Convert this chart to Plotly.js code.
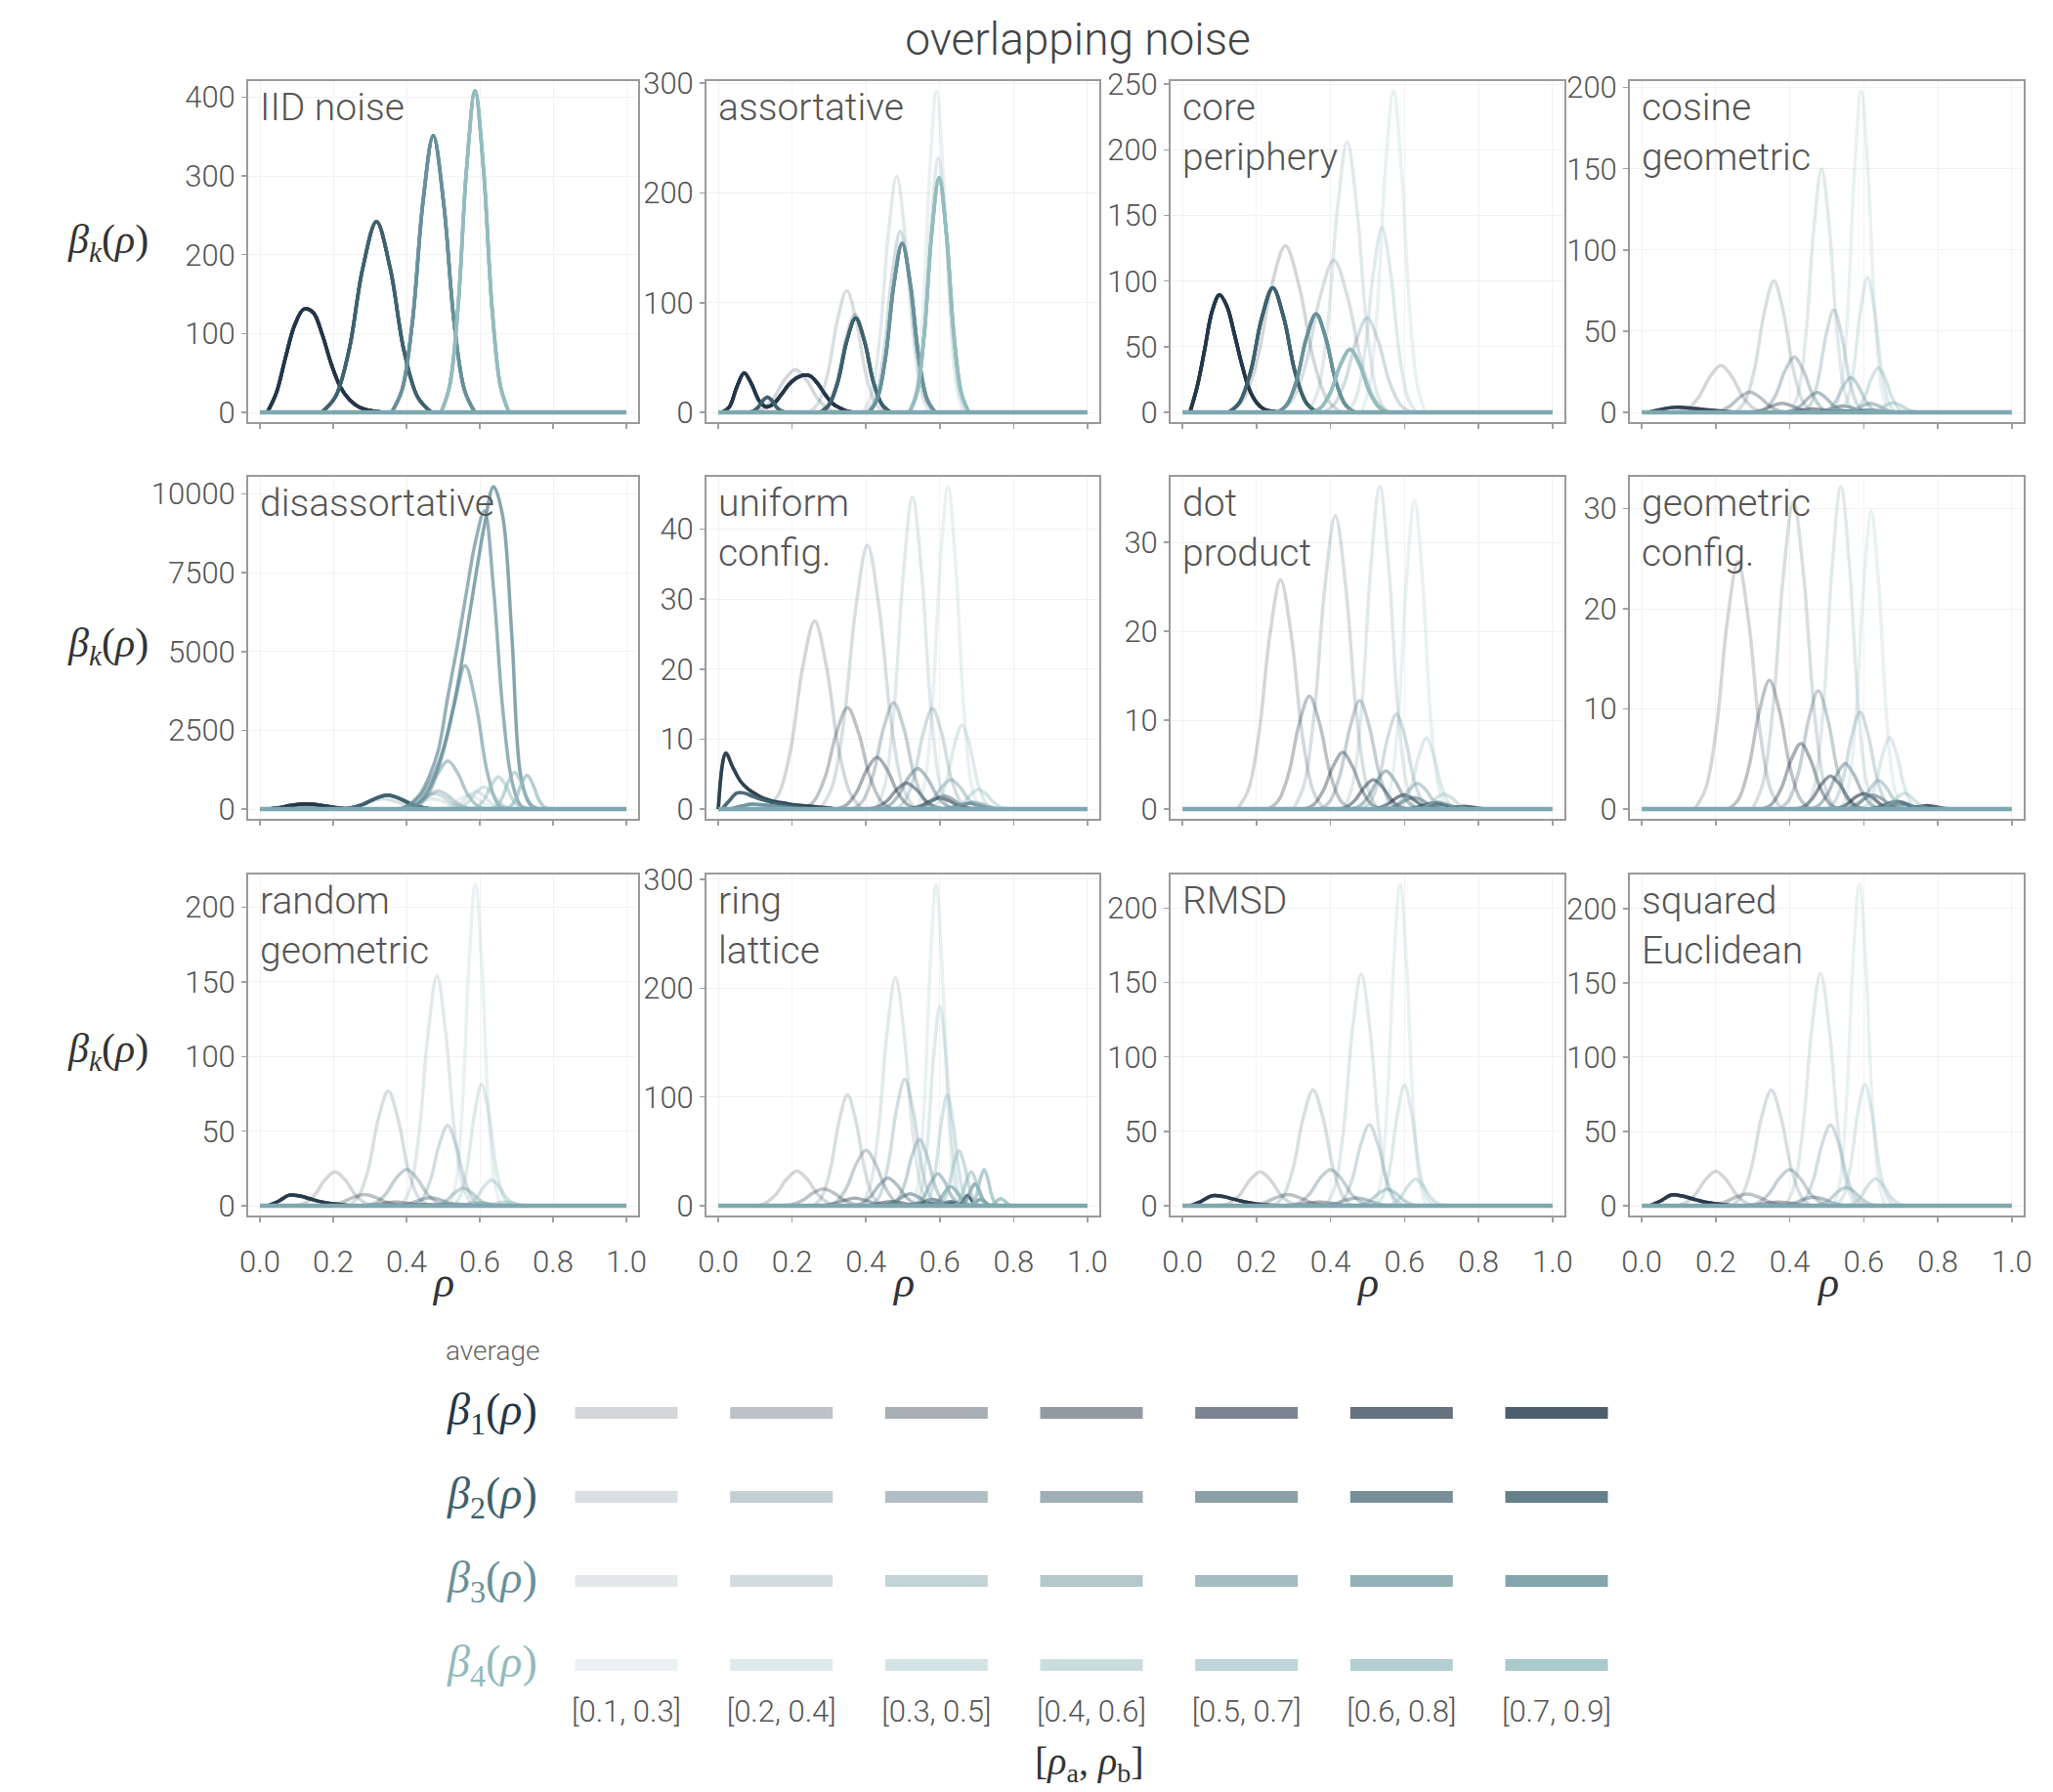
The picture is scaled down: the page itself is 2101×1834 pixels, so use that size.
<!DOCTYPE html>
<html><head><meta charset="utf-8">
<script src="https://cdn.plot.ly/plotly-3.0.1.min.js"></script>
<style>html,body{margin:0;padding:0;background:#fff}#chart{width:2101px;height:1834px}</style>
</head><body><div id="chart"></div>
<script>
// ---------------- data ----------------
const intervals = ['[0.1, 0.3]','[0.2, 0.4]','[0.3, 0.5]','[0.4, 0.6]','[0.5, 0.7]','[0.6, 0.8]','[0.7, 0.9]'];
const alphas = [0.2,0.3,0.4,0.5,0.6,0.7,0.8];
const betaRGB = [[35,54,71],[61,96,109],[104,144,154],[147,187,190]];
const panelLabels = ['IID noise','assortative','core<br>periphery','cosine<br>geometric',
  'disassortative','uniform<br>config.','dot<br>product','geometric<br>config.',
  'random<br>geometric','ring<br>lattice','RMSD','squared<br>Euclidean'];
const yTickSteps = [100,100,50,50,2500,10,10,10,50,100,50,50];
const xTickVals = [0,0.2,0.4,0.6,0.8,1.0];
const rhoDomain = [0,1];
const ALL = [0,1,2,3,4,5,6];
// each curve: [k, interval index (or list), rho start, rho step, beta values]
const iidNoise = [
 [1,ALL,0.02,0.025,[0,25,70,111,131,127,99,61,32,16,7,3,1,0]],
 [2,ALL,0.168,0.0375,[0,19.4,78.7,182.7,242,182.7,78.7,19.4,0]],
 [3,ALL,0.359,0.0285,[0,28.1,114,265,351,265,114,28.1,0]],
 [4,ALL,0.494,0.02325,[0,32.6,132.6,308,408,308,132.6,32.6,0]]
];
const assortative = [
 [1,[1,2,3,4,5,6],0.01,0.02,[0,5,23,36,26,11,5,8,16,25,31,34,33,26,16,8,4,1,0]],
 [1,0,0.089,0.03,[0,3.1,12.7,29.4,39,29.4,12.7,3.1,0]],
 [2,[3,4,5,6],0.082,0.01275,[0,1.1,4.6,10.6,14,10.6,4.6,1.1,0]],
 [2,0,0.246,0.0255,[0,8.9,36.1,83.8,111,83.8,36.1,8.9,0]],
 [2,1,0.274,0.024,[0,7.1,28.9,67.2,89,67.2,28.9,7.1,0]],
 [2,[2,3,4,5,6],0.276,0.024,[0,6.9,28,64.9,86,64.9,28,6.9,0]],
 [3,0,0.393,0.0225,[0,17.2,69.9,162.3,215,162.3,69.9,17.2,0]],
 [3,1,0.403,0.0225,[0,13.2,53.6,124.6,165,124.6,53.6,13.2,0]],
 [3,[2,3,4,5,6],0.408,0.0225,[0,12.3,50,116.3,154,116.3,50,12.3,0]],
 [4,0,0.519,0.018,[0,23.4,95.2,221.2,293,221.2,95.2,23.4,0]],
 [4,1,0.521,0.01875,[0,18.6,75.4,175.2,232,175.2,75.4,18.6,0]],
 [4,[2,3,4,5,6],0.517,0.02025,[0,17.1,69.6,161.6,214,161.6,69.6,17.1,0]]
];
const corePeriphery = [
 [1,[1,2,3,4,5,6],0.02,0.02,[0,20,48,77,89.6,81,60,37,18,7.6,2.5,1,0]],
 [1,0,0.128,0.0375,[0,10.2,41.3,95.9,127,95.9,41.3,10.2,0]],
 [2,[1,2,3,4,5,6],0.124,0.03,[0,7.6,30.9,71.7,95,71.7,30.9,7.6,0]],
 [2,0,0.259,0.0375,[0,9.3,37.7,87.6,116,87.6,37.7,9.3,0]],
 [3,[2,3,4,5,6],0.256,0.02625,[0,6,24.4,56.6,75,56.6,24.4,6,0]],
 [3,1,0.379,0.03,[0,5.8,23.4,54.4,72,54.4,23.4,5.8,0]],
 [3,0,0.34,0.02625,[0,16.5,67,155.5,206,155.5,67,16.5,0]],
 [4,[2,3,4,5,6],0.348,0.02625,[0,3.8,15.6,36.2,48,36.2,15.6,3.8,0]],
 [4,1,0.446,0.02325,[0,11.3,45.8,106.5,141,106.5,45.8,11.3,0]],
 [4,0,0.483,0.02175,[0,19.6,79.6,185,245,185,79.6,19.6,0]]
];
const cosineGeometric = [
 [1,[5,6],0.02,0.03,[0.3,1.8,3,3.1,2.5,1.8,1.2,0.6,0]],
 [1,0,0.094,0.03,[0,2.3,9.4,21.9,29,21.9,9.4,2.3,0]],
 [1,1,0.187,0.02625,[0,1,4.1,9.5,12.6,9.5,4.1,1,0]],
 [1,2,0.28,0.02475,[0,0.45,1.8,4.2,5.6,4.2,1.8,0.45,0]],
 [1,3,0.37,0.0225,[0,0.18,0.7,1.7,2.2,1.7,0.7,0.18,0]],
 [1,4,0.45,0.0225,[0,0.08,0.33,0.76,1,0.76,0.33,0.08,0]],
 [2,0,0.252,0.02625,[0,6.5,26.3,61.2,81,61.2,26.3,6.5,0]],
 [2,1,0.313,0.02475,[0,2.7,11,25.7,34,25.7,11,2.7,0]],
 [2,2,0.384,0.0225,[0,1,4,9.2,12.2,9.2,4,1,0]],
 [2,3,0.454,0.0225,[0,0.3,1.3,3,4,3,1.3,0.3,0]],
 [2,4,0.52,0.0225,[0,0.12,0.5,1.1,1.5,1.1,0.5,0.12,0]],
 [3,0,0.402,0.021,[0,12,48.8,113.3,150,113.3,48.8,12,0]],
 [3,1,0.435,0.021,[0,5,20.5,47.6,63,47.6,20.5,5,0]],
 [3,2,0.484,0.02025,[0,1.7,7,16.2,21.5,16.2,7,1.7,0]],
 [3,3,0.537,0.02025,[0,0.45,1.8,4.2,5.6,4.2,1.8,0.45,0]],
 [4,0,0.521,0.018,[0,15.8,64.4,149.5,198,149.5,64.4,15.8,0]],
 [4,1,0.535,0.01875,[0,6.6,27,62.7,83,62.7,27,6.6,0]],
 [4,2,0.564,0.01875,[0,2.2,8.9,20.8,27.5,20.8,8.9,2.2,0]],
 [4,3,0.605,0.01875,[0,0.5,2,4.5,6,4.5,2,0.5,0]]
];
const disassortative = [
 [1,[3,4,5,6],0.02,0.03,[0,40,110,160,160,115,60,20,0]],
 [1,[0,1],0.02,0.03,[0,30,80,115,110,80,40,12,0]],
 [2,0,0.2,0.03375,[0,26.4,107,249,330,249,107,26.4,0]],
 [2,[3,4,5,6],0.213,0.03375,[0,35.5,144,335,444,335,144,35.5,0]],
 [3,0,0.35,0.03,[0,26.4,107,249,330,249,107,26.4,0]],
 [3,1,0.373,0.02625,[0,38.4,156,362,480,362,156,38.4,0]],
 [3,2,0.381,0.02625,[0,46.4,188.5,438,580,438,188.5,46.4,0]],
 [3,3,0.408,0.02625,[0,122,497,1154,1529,1154,497,122,0]],
 [3,4,0.38,0.03,[0,150,450,1000,1900,3300,4556,3300,1200,150,0]],
 [3,5,0.3875,0.025,[0,180,480,1050,1900,3550,5100,6800,8450,9463,7000,3200,900,100,0]],
 [3,6,0.4125,0.025,[0,250,650,1350,2400,3800,5500,7300,9000,10238,9300,5500,1000,150,0]],
 [4,0,0.48,0.0225,[0,36,146,340,450,340,146,36,0]],
 [4,1,0.506,0.021,[0,44.8,182,423,560,423,182,44.8,0]],
 [4,2,0.527,0.021,[0,56,228,530,702,530,228,56,0]],
 [4,3,0.576,0.01875,[0,82,332,772,1023,772,332,82,0]],
 [4,4,0.629,0.0165,[0,93,379,881,1167,881,379,93,0]],
 [4,5,0.669,0.015,[0,86,349,811,1074,811,349,86,0]]
];
const uniformConfig = [
 [1,[5,6],0,0.02,[0,8,5.9,4,2.9,2.2,1.6,1.25,1,0.85,0.65,0.55,0.45,0.35,0.25,0.15,0]],
 [2,[5,6],0.01,0.02,[0,1.2,2.3,2.3,1.9,1.5,1.2,0.9,0.7,0.5,0.35,0.2,0]],
 [3,[5,6],0.03,0.03,[0,0.4,0.7,0.6,0.4,0.25,0.1,0]],
 [1,0,0.132,0.03225,[0,2.2,8.7,20.3,26.9,20.3,8.7,2.2,0]],
 [1,1,0.23,0.03,[0,1.2,4.7,10.9,14.5,10.9,4.7,1.2,0]],
 [1,2,0.319,0.02775,[0,0.6,2.4,5.6,7.4,5.6,2.4,0.6,0]],
 [1,3,0.405,0.02625,[0,0.3,1.2,2.8,3.7,2.8,1.2,0.3,0]],
 [1,4,0.501,0.02475,[0,0.13,0.52,1.2,1.6,1.2,0.52,0.13,0]],
 [2,0,0.275,0.03225,[0,3,12.3,28.5,37.7,28.5,12.3,3,0]],
 [2,1,0.364,0.02775,[0,1.2,4.9,11.5,15.2,11.5,4.9,1.2,0]],
 [2,2,0.435,0.02625,[0,0.46,1.9,4.4,5.8,4.4,1.9,0.46,0]],
 [2,3,0.514,0.024,[0,0.15,0.6,1.4,1.9,1.4,0.6,0.15,0]],
 [2,4,0.59,0.0225,[0,0.06,0.26,0.6,0.8,0.6,0.26,0.06,0]],
 [3,0,0.427,0.02475,[0,3.6,14.5,33.7,44.6,33.7,14.5,3.6,0]],
 [3,1,0.481,0.02475,[0,1.2,4.7,10.9,14.4,10.9,4.7,1.2,0]],
 [3,2,0.534,0.024,[0,0.34,1.4,3.2,4.2,3.2,1.4,0.34,0]],
 [3,3,0.6,0.0225,[0,0.08,0.33,0.76,1,0.76,0.33,0.08,0]],
 [4,0,0.538,0.021,[0,3.7,15,34.8,46.1,34.8,15,3.7,0]],
 [4,1,0.576,0.021,[0,1,3.9,9.1,12,9.1,3.9,1,0]],
 [4,2,0.621,0.021,[0,0.22,0.9,2.1,2.8,2.1,0.9,0.22,0]]
];
const dotProduct = [
 [1,0,0.148,0.02925,[0,2.1,8.4,19.5,25.8,19.5,8.4,2.1,0]],
 [1,1,0.232,0.02775,[0,1,4.1,9.6,12.7,9.6,4.1,1,0]],
 [1,2,0.328,0.02625,[0,0.5,2.1,4.8,6.4,4.8,2.1,0.5,0]],
 [1,3,0.42,0.024,[0,0.26,1.1,2.5,3.3,2.5,1.1,0.26,0]],
 [1,4,0.508,0.0225,[0,0.13,0.52,1.2,1.6,1.2,0.52,0.13,0]],
 [1,5,0.594,0.02175,[0,0.06,0.23,0.53,0.7,0.53,0.23,0.06,0]],
 [1,6,0.676,0.021,[0,0.02,0.1,0.23,0.3,0.23,0.1,0.02,0]],
 [2,0,0.299,0.0285,[0,2.6,10.7,24.9,33,24.9,10.7,2.6,0]],
 [2,1,0.374,0.02625,[0,1,4,9.2,12.2,9.2,4,1,0]],
 [2,2,0.454,0.024,[0,0.34,1.4,3.2,4.3,3.2,1.4,0.34,0]],
 [2,3,0.535,0.0225,[0,0.1,0.42,1,1.3,1,0.42,0.1,0]],
 [2,4,0.61,0.0225,[0,0.04,0.16,0.38,0.5,0.38,0.16,0.04,0]],
 [3,0,0.437,0.024,[0,2.9,11.8,27.4,36.3,27.4,11.8,2.9,0]],
 [3,1,0.485,0.02325,[0,0.86,3.5,8.1,10.7,8.1,3.5,0.86,0]],
 [3,2,0.548,0.02175,[0,0.23,0.94,2.2,2.9,2.2,0.94,0.23,0]],
 [3,3,0.606,0.021,[0,0.06,0.26,0.6,0.8,0.6,0.26,0.06,0]],
 [4,0,0.543,0.021,[0,2.8,11.3,26.2,34.7,26.2,11.3,2.8,0]],
 [4,1,0.578,0.02025,[0,0.64,2.6,6,8,6,2.6,0.64,0]],
 [4,2,0.629,0.0195,[0,0.14,0.55,1.3,1.7,1.3,0.55,0.14,0]]
];
const geometricConfig = [
 [1,0,0.143,0.02925,[0,2,8,18.6,24.7,18.6,8,2,0]],
 [1,1,0.234,0.02775,[0,1,4.2,9.7,12.85,9.7,4.2,1,0]],
 [1,2,0.325,0.02625,[0,0.5,2.1,4.9,6.55,4.9,2.1,0.5,0]],
 [1,3,0.414,0.024,[0,0.26,1.1,2.5,3.3,2.5,1.1,0.26,0]],
 [1,4,0.51,0.0225,[0,0.12,0.5,1.2,1.55,1.2,0.5,0.12,0]],
 [1,5,0.603,0.02175,[0,0.06,0.25,0.58,0.77,0.58,0.25,0.06,0]],
 [1,6,0.686,0.021,[0,0.03,0.11,0.26,0.35,0.26,0.11,0.03,0]],
 [2,0,0.299,0.02775,[0,2.5,10,23.2,30.7,23.2,10,2.5,0]],
 [2,1,0.372,0.02625,[0,0.94,3.8,8.9,11.8,8.9,3.8,0.94,0]],
 [2,2,0.454,0.024,[0,0.36,1.5,3.4,4.55,3.4,1.5,0.36,0]],
 [2,3,0.535,0.0225,[0,0.11,0.46,1.06,1.4,1.06,0.46,0.11,0]],
 [2,4,0.61,0.0225,[0,0.04,0.16,0.38,0.5,0.38,0.16,0.04,0]],
 [3,0,0.445,0.02325,[0,2.6,10.5,24.3,32.2,24.3,10.5,2.6,0]],
 [3,1,0.50,0.0225,[0,0.78,3.2,7.3,9.7,7.3,3.2,0.78,0]],
 [3,2,0.556,0.021,[0,0.23,0.93,2.15,2.85,2.15,0.93,0.23,0]],
 [3,3,0.606,0.021,[0,0.06,0.26,0.6,0.8,0.6,0.26,0.06,0]],
 [4,0,0.539,0.02025,[0,2.4,9.7,22.4,29.7,22.4,9.7,2.4,0]],
 [4,1,0.592,0.0195,[0,0.57,2.3,5.4,7.1,5.4,2.3,0.57,0]],
 [4,2,0.635,0.01875,[0,0.13,0.52,1.2,1.6,1.2,0.52,0.13,0]]
];
const randomGeometric = [
 [1,[4,5,6],0.02,0.03,[0,3,7.2,6.6,4.5,2.6,1.4,0.6,0]],
 [1,0,0.094,0.02775,[0,1.8,7.4,17.3,22.9,17.3,7.4,1.8,0]],
 [1,1,0.165,0.03,[0,0.6,2.5,5.7,7.6,5.7,2.5,0.6,0]],
 [1,2,0.259,0.02775,[0,0.2,0.8,1.9,2.5,1.9,0.8,0.2,0]],
 [1,3,0.345,0.02625,[0,0.08,0.33,0.76,1,0.76,0.33,0.08,0]],
 [2,0,0.242,0.027,[0,6.2,25,58.1,77,58.1,25,6.2,0]],
 [2,1,0.286,0.0285,[0,2,7.9,18.4,24.4,18.4,7.9,2,0]],
 [2,2,0.36,0.02625,[0,0.43,1.8,4.1,5.4,4.1,1.8,0.43,0]],
 [2,3,0.44,0.0225,[0,0.1,0.42,1,1.3,1,0.42,0.1,0]],
 [3,0,0.387,0.024,[0,12.3,50,116.3,154,116.3,50,12.3,0]],
 [3,1,0.419,0.02325,[0,4.3,17.5,40.5,53.7,40.5,17.5,4.3,0]],
 [3,2,0.465,0.0225,[0,0.94,3.8,8.9,11.8,8.9,3.8,0.94,0]],
 [3,3,0.516,0.021,[0,0.16,0.65,1.5,2,1.5,0.65,0.16,0]],
 [4,0,0.519,0.01725,[0,17.2,70,162.7,215.5,162.7,70,17.2,0]],
 [4,1,0.527,0.0195,[0,6.5,26.5,61.5,81.4,61.5,26.5,6.5,0]],
 [4,2,0.551,0.02025,[0,1.4,5.6,13,17.2,13,5.6,1.4,0]],
 [4,3,0.595,0.01875,[0,0.2,0.8,1.9,2.5,1.9,0.8,0.2,0]]
];
const ringLattice = [
 [1,0,0.099,0.0285,[0,2.6,10.4,24.2,32,24.2,10.4,2.6,0]],
 [1,1,0.171,0.0285,[0,1.2,5,11.7,15.5,11.7,5,1.2,0]],
 [1,2,0.265,0.02625,[0,0.56,2.3,5.3,7,5.3,2.3,0.56,0]],
 [1,3,0.38,0.0225,[0,0.3,1.3,3,4,3,1.3,0.3,0]],
 [1,4,0.485,0.01875,[0,0.24,1,2.3,3,2.3,1,0.24,0]],
 [1,5,0.58,0.015,[0,0.2,0.8,1.9,2.5,1.9,0.8,0.2,0]],
 [1,6,0.645,0.0075,[0,0.77,3.1,7.2,9.6,7.2,3.1,0.77,0]],
 [2,0,0.257,0.02325,[0,8.2,33.2,77,102,77,33.2,8.2,0]],
 [2,1,0.295,0.02625,[0,4.1,16.6,38.5,51,38.5,16.6,4.1,0]],
 [2,2,0.364,0.024,[0,2,8.3,19.2,25.4,19.2,8.3,2,0]],
 [2,3,0.436,0.021,[0,0.9,3.6,8.3,11,8.3,3.6,0.9,0]],
 [2,4,0.514,0.0165,[0,0.5,2,4.5,6,4.5,2,0.5,0]],
 [2,5,0.576,0.0135,[0,0.3,1.3,3,4,3,1.3,0.3,0]],
 [3,0,0.387,0.02325,[0,16.8,68.1,158.2,209.6,158.2,68.1,16.8,0]],
 [3,1,0.415,0.0225,[0,9.3,37.8,87.9,116.4,87.9,37.8,9.3,0]],
 [3,2,0.464,0.02025,[0,4.9,19.8,46.1,61,46.1,19.8,4.9,0]],
 [3,3,0.523,0.018,[0,2.4,9.6,22.3,29.6,22.3,9.6,2.4,0]],
 [3,4,0.57,0.015,[0,1.4,5.7,13.3,17.6,13.3,5.7,1.4,0]],
 [3,5,0.653,0.0105,[0,1.6,6.5,15.1,20,15.1,6.5,1.6,0]],
 [3,6,0.674,0.009,[0,0.5,2,4.5,6,4.5,2,0.5,0]],
 [4,0,0.527,0.01575,[0,23.6,96,223,295.5,223,96,23.6,0]],
 [4,1,0.534,0.0165,[0,14.7,59.6,138.4,183.3,138.4,59.6,14.7,0]],
 [4,2,0.557,0.01575,[0,8.1,33.1,76.9,101.8,76.9,33.1,8.1,0]],
 [4,3,0.595,0.01425,[0,4,16.4,38,50.4,38,16.4,4,0]],
 [4,4,0.637,0.012,[0,2.5,10.2,23.6,31.3,23.6,10.2,2.5,0]],
 [4,5,0.681,0.00975,[0,2.7,10.9,25.2,33.4,25.2,10.9,2.7,0]],
 [4,6,0.729,0.009,[0,0.5,2.1,5,6.6,5,2.1,0.5,0]]
];
const rmsd = [
 [1,[4,5,6],0.02,0.03,[0,3,6.8,6.3,4.4,2.6,1.3,0.5,0]],
 [1,0,0.099,0.02775,[0,1.8,7.4,17.3,22.9,17.3,7.4,1.8,0]],
 [1,1,0.165,0.03,[0,0.6,2.5,5.7,7.6,5.7,2.5,0.6,0]],
 [1,2,0.259,0.02775,[0,0.2,0.8,1.9,2.5,1.9,0.8,0.2,0]],
 [2,0,0.245,0.027,[0,6.2,25.3,58.8,77.9,58.8,25.3,6.2,0]],
 [2,1,0.286,0.0285,[0,2,7.9,18.4,24.4,18.4,7.9,2,0]],
 [2,2,0.365,0.02625,[0,0.43,1.8,4.1,5.4,4.1,1.8,0.43,0]],
 [3,0,0.387,0.024,[0,12.5,50.6,117.6,155.7,117.6,50.6,12.5,0]],
 [3,1,0.412,0.02325,[0,4.4,17.7,41.1,54.5,41.1,17.7,4.4,0]],
 [3,2,0.463,0.0225,[0,0.9,3.7,8.5,11.3,8.5,3.7,0.9,0]],
 [4,0,0.519,0.01725,[0,17.3,70.2,163,216,163,70.2,17.3,0]],
 [4,1,0.522,0.0195,[0,6.5,26.4,61.2,81.1,61.2,26.4,6.5,0]],
 [4,2,0.549,0.02025,[0,1.4,5.8,13.5,17.9,13.5,5.8,1.4,0]]
];
const squaredEuclidean = [
 [1,[4,5,6],0.02,0.03,[0,3.2,7.3,6.6,4.5,2.6,1.4,0.6,0]],
 [1,0,0.089,0.02775,[0,1.9,7.6,17.6,23.3,17.6,7.6,1.9,0]],
 [1,1,0.165,0.03,[0,0.64,2.6,6,8,6,2.6,0.64,0]],
 [1,2,0.259,0.02775,[0,0.2,0.8,1.9,2.5,1.9,0.8,0.2,0]],
 [2,0,0.242,0.027,[0,6.2,25.3,58.8,77.9,58.8,25.3,6.2,0]],
 [2,1,0.286,0.0285,[0,2,7.9,18.4,24.4,18.4,7.9,2,0]],
 [2,2,0.36,0.02625,[0,0.47,1.9,4.5,5.9,4.5,1.9,0.47,0]],
 [3,0,0.387,0.024,[0,12.5,50.8,118.1,156.4,118.1,50.8,12.5,0]],
 [3,1,0.417,0.02325,[0,4.4,17.7,41.1,54.5,41.1,17.7,4.4,0]],
 [3,2,0.462,0.0225,[0,1,4,9.4,12.4,9.4,4,1,0]],
 [4,0,0.519,0.01725,[0,17.3,70.3,163.4,216.4,163.4,70.3,17.3,0]],
 [4,1,0.525,0.0195,[0,6.5,26.5,61.6,81.6,61.6,26.5,6.5,0]],
 [4,2,0.551,0.02025,[0,1.5,5.9,13.8,18.3,13.8,5.9,1.5,0]]
];
const curveTables = [iidNoise,assortative,corePeriphery,cosineGeometric,disassortative,uniformConfig,
  dotProduct,geometricConfig,randomGeometric,ringLattice,rmsd,squaredEuclidean];

// ---------------- layout ----------------
const SANS = 'Roboto, "Open Sans", Lato, sans-serif';
const SERIF = '"Liberation Serif", "DejaVu Serif", serif';
const W = 2101, H = 1834;
const colDomains = [[254,653],[723,1125],[1198,1601],[1668,2071]].map(([a,b])=>[a/W,b/W]);
const rowDomains = [[83,432],[488,838],[895,1244]].map(([t,b])=>[1-b/H,1-t/H]);
const rgba = (k,i)=>`rgba(${betaRGB[k-1].join(',')},${alphas[i]})`;

const traces = [];
const annotations = [];
const layout = {
  width:W, height:H, margin:{l:0,r:0,t:0,b:0},
  paper_bgcolor:'#fff', plot_bgcolor:'#fff', showlegend:false,
  font:{family:SANS,color:'#555'},
  title:{text:'overlapping noise', x:1103/W, xanchor:'center', y:1-40/H, yanchor:'middle',
         font:{family:SANS,size:46,color:'#444',weight:300}},
  annotations
};

panelLabels.forEach((label,p)=>{
  const n = p+1, sfx = n===1 ? '' : String(n);
  const row = Math.floor(p/4), col = p%4;
  const curves = [];
  curveTables[p].forEach(([k,iv,x0,dx,ys])=>{
    (Array.isArray(iv)?iv:[iv]).forEach(i=>{
      curves.push({k,i,x:ys.map((_,j)=>+(x0+j*dx).toFixed(5)),y:ys});
    });
  });
  curves.sort((a,b)=>a.k-b.k || a.i-b.i);
  let ymax = 0;
  curves.forEach(c=>{
    ymax = Math.max(ymax,...c.y);
    traces.push({type:'scatter',mode:'lines',x:c.x,y:c.y,xaxis:'x'+sfx,yaxis:'y'+sfx,
      line:{shape:'spline',smoothing:1,width:3.5,color:rgba(c.k,c.i)},hoverinfo:'skip'});
  });
  traces.push({type:'scatter',mode:'lines',x:rhoDomain,y:[0,0],xaxis:'x'+sfx,yaxis:'y'+sfx,
    line:{width:4.5,color:'#7ea8af'},hoverinfo:'skip'});

  const axisCommon = {showline:true,mirror:true,linecolor:'#9a9a9a',linewidth:2,
    showgrid:true,gridcolor:'#f2f2f2',gridwidth:1,zeroline:false,
    ticks:'outside',ticklen:5,tickcolor:'#a0a0a0',tickwidth:1.5,fixedrange:true,
    tickfont:{family:SANS,size:31,color:'#555',weight:300}};
  layout['xaxis'+sfx] = Object.assign({},axisCommon,{
    domain:colDomains[col], range:[-0.032,1.032], anchor:'y'+sfx,
    tickvals:xTickVals, tickformat:'.1f', showticklabels:row===2, ticklabelstandoff:14});
  layout['yaxis'+sfx] = Object.assign({},axisCommon,{
    domain:rowDomains[row], range:[-0.03*ymax,1.03*ymax], anchor:'x'+sfx,
    tick0:0, dtick:yTickSteps[p], tickformat:'d'});
  annotations.push({text:label, xref:'x'+sfx+' domain', yref:'y'+sfx+' domain',
    x:0.025, y:0.995, xanchor:'left', yanchor:'top', align:'left', showarrow:false,
    font:{family:SANS,size:39,color:'#555',weight:300}});
});

// axis labels
[248,661,1076].forEach(py=>annotations.push({text:'<i>β</i><sub><i>k</i></sub>(<i>ρ</i>)',
  xref:'paper',yref:'paper',x:110/W,y:1-py/H,xanchor:'center',yanchor:'middle',showarrow:false,
  font:{family:SERIF,size:42,color:'#333'}}));
[453,924,1400,1870].forEach(px=>annotations.push({text:'<i>ρ</i>',
  xref:'paper',yref:'paper',x:px/W,y:1-1312/H,xanchor:'center',yanchor:'middle',showarrow:false,
  font:{family:SERIF,size:44,color:'#333'}}));

// legend block
const legendX = [0,1,2,3,4,5,6];
[1,2,3,4].forEach(k=>{
  const cols = legendX.map(i=>rgba(k,i));
  traces.push({type:'scatter',mode:'markers',x:legendX,y:legendX.map(()=>k),xaxis:'x13',yaxis:'y13',
    marker:{symbol:'line-ew',size:75,color:cols,line:{width:12,color:cols}},hoverinfo:'skip'});
  annotations.push({text:`<i>β</i><sub>${k}</sub>(<i>ρ</i>)`,xref:'paper',yref:'paper',
    x:503/W,y:1-[1446,1532,1618,1704][k-1]/H,xanchor:'center',yanchor:'middle',showarrow:false,
    font:{family:SERIF,size:46,color:`rgb(${betaRGB[k-1].join(',')})`}});
});
layout.xaxis13 = {domain:[561.7/W,1672.3/W],range:[-0.5,6.5],anchor:'y13',tickvals:legendX,ticktext:intervals,
  showline:false,showgrid:false,zeroline:false,ticks:'',fixedrange:true,
  tickfont:{family:SANS,size:31,color:'#555',weight:300}};
layout.yaxis13 = {domain:[1-1729.8/H,1-1411.6/H],range:[4.3,0.6],anchor:'x13',visible:false,fixedrange:true};
annotations.push({text:'average',xref:'paper',yref:'paper',x:504/W,y:1-1382/H,xanchor:'center',yanchor:'middle',
  showarrow:false,font:{family:SANS,size:28,color:'#666',weight:300}});
annotations.push({text:'[<i>ρ</i><sub>a</sub>, <i>ρ</i><sub>b</sub>]',xref:'paper',yref:'paper',x:1115/W,y:1-1805/H,
  xanchor:'center',yanchor:'middle',showarrow:false,font:{family:SERIF,size:40,color:'#333'}});

Plotly.newPlot('chart',traces,layout,{staticPlot:true,displayModeBar:false});
</script></body></html>
